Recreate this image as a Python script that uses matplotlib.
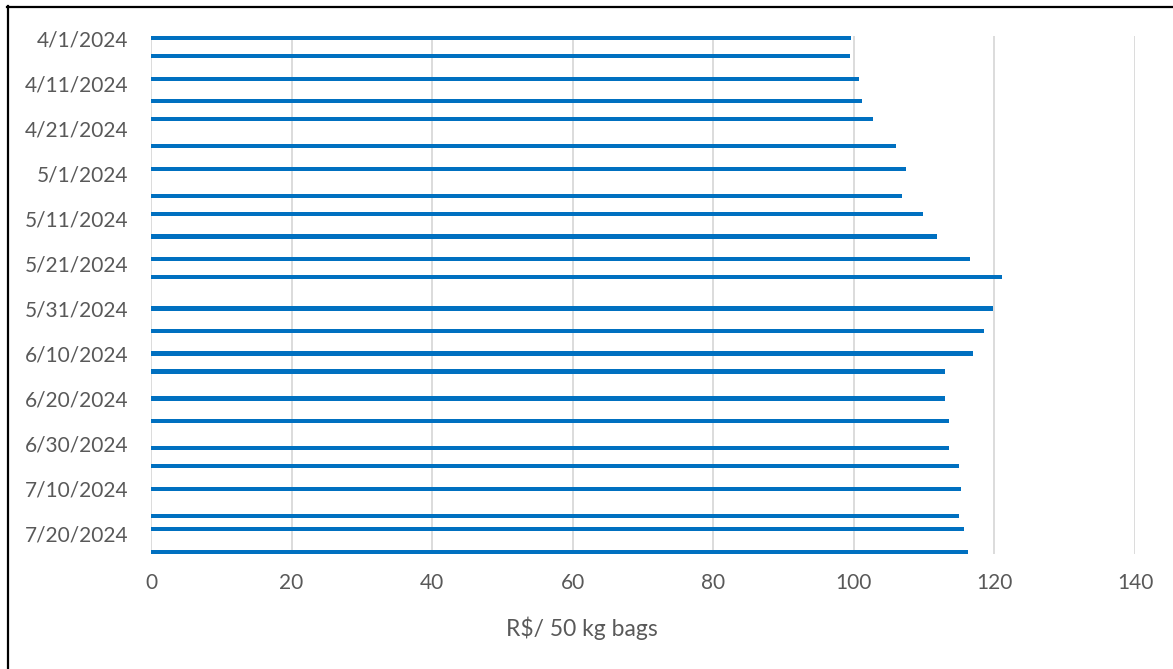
import datetime as dt
import matplotlib
matplotlib.use("Agg")
import matplotlib.pyplot as plt
import matplotlib.dates as mdates
from matplotlib.lines import Line2D

# weekly-ish price observations
dates = ["2024-04-01", "2024-04-05", "2024-04-10", "2024-04-15", "2024-04-19",
         "2024-04-25", "2024-04-30", "2024-05-06", "2024-05-10", "2024-05-15",
         "2024-05-20", "2024-05-24", "2024-05-31", "2024-06-05", "2024-06-10",
         "2024-06-14", "2024-06-20", "2024-06-25", "2024-07-01", "2024-07-05",
         "2024-07-10", "2024-07-16", "2024-07-19", "2024-07-24"]
prices = [99.6, 99.5, 100.7, 101.1, 102.7, 106.0, 107.4, 106.9, 109.8, 111.9,
          116.5, 121.1, 119.8, 118.5, 116.9, 112.9, 112.9, 113.5, 113.6, 114.9,
          115.3, 115.0, 115.7, 116.2]
xticks = [0, 20, 40, 60, 80, 100, 120, 140]
xlabel = "R$/ 50 kg bags"

plt.rcParams['font.family'] = ['Lato', 'DejaVu Sans']
grey = '#595959'

d = [dt.datetime.strptime(s, "%Y-%m-%d") for s in dates]
y = mdates.date2num(d)

fig = plt.figure(figsize=(11.73, 6.69), dpi=100)
ax = fig.add_axes([151/1173, 1-554/669, (1135-151)/1173, (554-36)/669])

ax.barh(y, prices, height=0.95, color='#0070C0', zorder=3)

ax.set_xlim(0, 140)
ax.set_xticks(xticks)
ax.set_ylim(y[-1] + 0.5, y[0] - 0.5)
yt = mdates.date2num([d[0] + dt.timedelta(days=10*i) for i in range(12)])
ax.set_yticks(yt)
ax.yaxis.set_major_formatter(plt.FuncFormatter(
    lambda v, p: "{0.month}/{0.day}/{0.year}".format(mdates.num2date(v))))

ax.grid(axis='x', color='#D9D9D9', linewidth=1.3, zorder=0)
for s in ax.spines.values():
    s.set_visible(False)
ax.tick_params(length=0, labelsize=15, labelcolor=grey)
ax.tick_params(axis='y', pad=16)
ax.tick_params(axis='x', pad=14)
ax.set_xlabel(xlabel, fontsize=16.5, color=grey, va='center')
ax.xaxis.set_label_coords((582-151)/984, -(628-554)/518)

# outer chart border (top and left visible)
fig.add_artist(Line2D([7/1173, 1.01], [1-6.5/669, 1-6.5/669], color='black', lw=1.6, transform=fig.transFigure))
fig.add_artist(Line2D([7.5/1173, 7.5/1173], [-0.01, 1-6/669], color='black', lw=1.6, transform=fig.transFigure))

fig.savefig("out.png", dpi=100)
